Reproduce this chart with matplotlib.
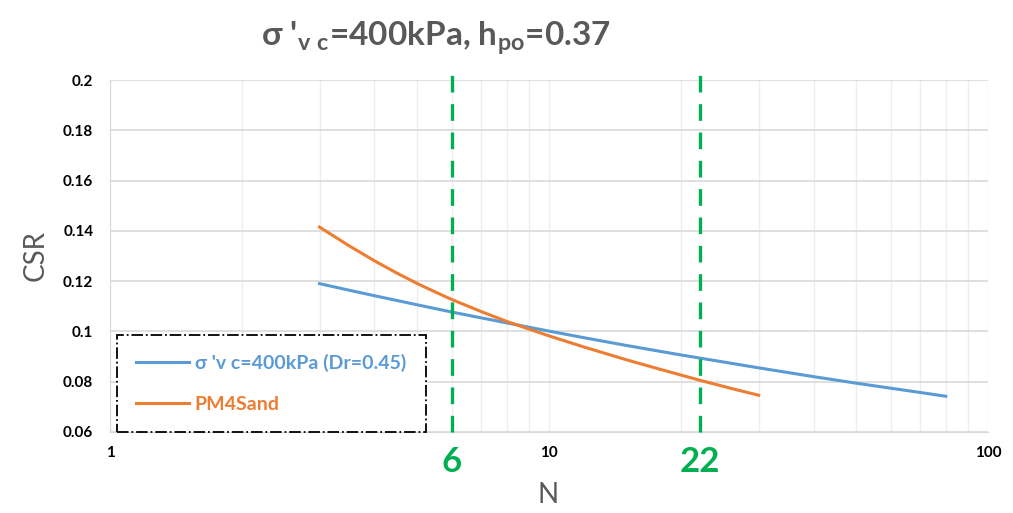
import matplotlib
matplotlib.use("Agg")
import matplotlib.pyplot as plt
import matplotlib.transforms as mtransforms
from matplotlib.ticker import FixedLocator, NullFormatter

# data
n_blue = [3, 3.5, 4, 5, 6, 7, 8, 10, 12, 15, 20, 25, 30, 40, 50, 60, 70, 80]
csr_blue = [0.119, 0.1164, 0.1142, 0.1106, 0.1077, 0.1054, 0.1034, 0.1001, 0.0975, 0.0944,
            0.0906, 0.0878, 0.0855, 0.0820, 0.0794, 0.0774, 0.0757, 0.0742]

n_orange = [3, 3.5, 4, 4.5, 5, 5.5, 6, 7, 8, 9, 10, 12, 15, 18, 22, 26, 30]
csr_orange = [0.1415, 0.1341, 0.1281, 0.1232, 0.1191, 0.1157, 0.1127, 0.1079, 0.1040, 0.1009,
              0.0982, 0.0938, 0.0887, 0.0848, 0.0806, 0.0773, 0.0746]

n_marks = [6, 22]
label_blue = "σ 'v c=400kPa (Dr=0.45)"
label_orange = "PM4Sand"

blue = "#5B9BD5"
orange = "#ED7D31"
green = "#00B050"
gray = "#595959"

plt.rcParams['font.family'] = ['Lato', 'DejaVu Sans']

fig = plt.figure(figsize=(10.13, 5.13), dpi=100)
ax = fig.add_axes([0.1086, 0.158, 0.867, 0.686])

ax.plot(n_blue, csr_blue, color=blue, lw=2.2, label=label_blue, zorder=3)
ax.plot(n_orange, csr_orange, color=orange, lw=2.2, label=label_orange, zorder=3)

for n in n_marks:
    ax.axvline(n, ymin=0, ymax=1.035, color=green, lw=2.4, ls=(0, (5, 3.5)), clip_on=False, zorder=4)

ax.set_xscale('log')
ax.set_xlim(1, 100)
ax.set_ylim(0.06, 0.2)
ax.set_yticks([0.06, 0.08, 0.1, 0.12, 0.14, 0.16, 0.18, 0.2])
ax.set_yticklabels(['0.06', '0.08', '0.1', '0.12', '0.14', '0.16', '0.18', '0.2'])
ax.set_xticks([1, 10, 100])
ax.set_xticklabels(['1', '10', '100'])
ax.xaxis.set_minor_locator(FixedLocator([k * d for d in (1, 10) for k in range(2, 10)]))
ax.xaxis.set_minor_formatter(NullFormatter())

ax.grid(True, which='major', axis='y', color='#d9d9d9', lw=1.2)
ax.grid(True, which='both', axis='x', color='#eeeeee', lw=1.0)
ax.set_axisbelow(True)
ax.tick_params(which='both', length=0)
ax.tick_params(axis='y', pad=12)
ax.tick_params(axis='x', pad=10)
for lab in ax.get_xticklabels() + ax.get_yticklabels():
    lab.set_fontweight('bold')
    lab.set_fontsize(11)

for s in ['top', 'right']:
    ax.spines[s].set_visible(False)
ax.spines['left'].set_color('#d9d9d9')
ax.spines['bottom'].set_color('#d9d9d9')

# green labels under the vertical lines
trans = mtransforms.blended_transform_factory(ax.transData, ax.transAxes)
for n in n_marks:
    ax.text(n, -0.04, str(n), transform=trans, ha='center', va='top',
            color=green, fontsize=25, fontweight='bold')

fig.text(0.5415, 0.035, 'N', ha='center', va='center', fontsize=20, color=gray)
ax.set_ylabel('CSR', fontsize=20, color=gray, labelpad=10)

fig.text(0.43, 0.925, r"σ '$_{\mathregular{v\ c}}$=400kPa, h$_{\mathregular{po}}$=0.37",
         ha='center', va='center', fontsize=24, fontweight='bold', color=gray)

leg = ax.legend(loc='lower left', bbox_to_anchor=(0.008, 0.0), borderaxespad=0,
                frameon=True, fancybox=False,
                labelcolor='linecolor', prop={'weight': 'bold', 'size': 14},
                handlelength=2.7, borderpad=1.0, labelspacing=1.2, handletextpad=0.3)
fr = leg.get_frame()
fr.set_edgecolor('black')
fr.set_linestyle('-.')
fr.set_linewidth(1.3)
fr.set_alpha(1)

fig.savefig('out.png', dpi=100)
